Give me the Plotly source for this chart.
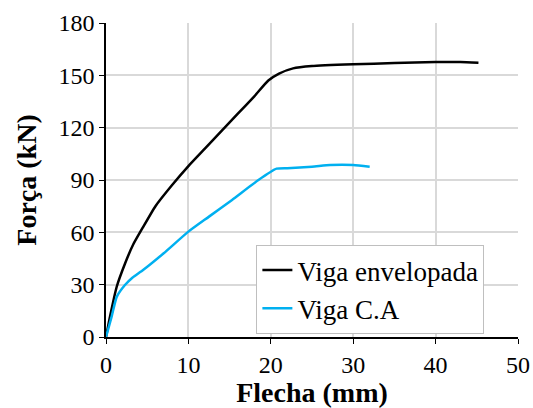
import plotly.graph_objects as go

env_x = [0, 0.5, 1.3, 2.3, 3.3, 4.5, 6, 8, 10, 12, 14, 16, 18, 19.7, 21, 22.7, 25, 30, 35, 40, 43, 45.2]
env_y = [0, 12, 28.8, 42, 53, 63, 75, 87, 98, 108, 118, 128, 138, 147, 151, 154, 155.3, 156.3, 157, 157.6, 157.6, 157.2]
ca_x = [0, 0.7, 1.3, 2.3, 3.2, 4.5, 7, 10, 12.5, 15.3, 18.5, 20.7, 22, 25, 27.2, 30, 32]
ca_y = [0, 12, 23, 29.8, 34, 38.4, 48, 60.4, 69, 78.6, 90, 96.5, 96.8, 97.6, 98.6, 98.6, 97.6]

font = "Liberation Serif, Times New Roman, serif"

fig = go.Figure()
fig.add_trace(go.Scatter(x=env_x, y=env_y, mode="lines", name="Viga envelopada",
                         line=dict(color="#000000", width=2.5, shape="spline", smoothing=0.5)))
fig.add_trace(go.Scatter(x=ca_x, y=ca_y, mode="lines", name="Viga C.A",
                         line=dict(color="#00B0F0", width=2.5, shape="spline", smoothing=0.5)))

fig.update_layout(
    width=533, height=408,
    margin=dict(l=106, r=15, t=23, b=71),
    paper_bgcolor="white", plot_bgcolor="white",
    font=dict(family=font, size=24, color="black"),
    showlegend=True,
    legend=dict(x=0.365, y=0.293, xanchor="left", yanchor="top",
                bgcolor="white", bordercolor="#bfbfbf", borderwidth=1,
                font=dict(family=font, size=27), tracegroupgap=0,
                itemwidth=30),
    xaxis=dict(range=[0, 50], tickvals=[0, 10, 20, 30, 40, 50], showgrid=True,
               gridcolor="#d9d9d9", gridwidth=1.5, showline=True, linecolor="black",
               linewidth=1.5, ticks="outside", ticklen=5, tickcolor="black",
               tickfont=dict(family=font, size=24),
               zeroline=False, automargin=False,
               title=dict(text="<b>Flecha (mm)</b>", font=dict(family=font, size=28), standoff=4)),
    yaxis=dict(range=[0, 180], tickvals=[0, 30, 60, 90, 120, 150, 180], showgrid=True,
               gridcolor="#d9d9d9", gridwidth=1.5, showline=True, linecolor="black",
               linewidth=1.5, ticks="outside", ticklen=5, tickcolor="black",
               tickfont=dict(family=font, size=24),
               zeroline=False, automargin=False,
               title=dict(text="<b>Força (kN)</b>", font=dict(family=font, size=28), standoff=14)),
)

fig.write_html("out.html")
